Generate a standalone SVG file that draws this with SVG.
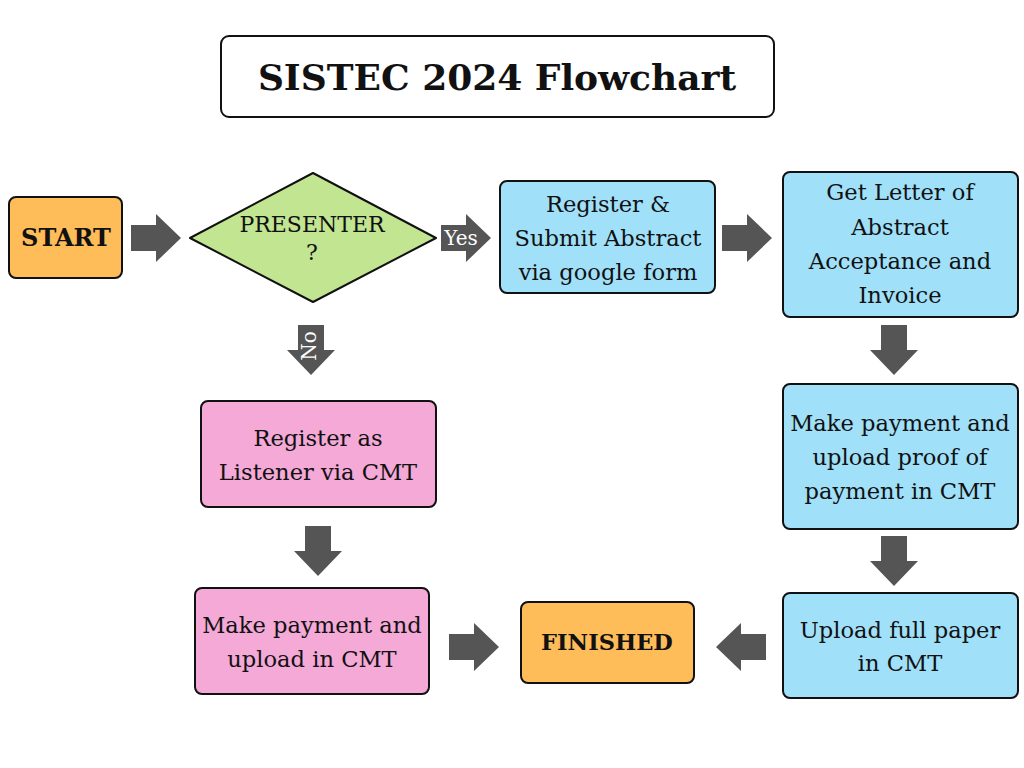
<svg xmlns="http://www.w3.org/2000/svg" xmlns:xlink="http://www.w3.org/1999/xlink" width="1024" height="768" viewBox="0 0 1024 768">
<style>
.box{stroke:#111;stroke-width:2}
.orange{fill:#ffbd59}
.blue{fill:#a0e0f9}
.pink{fill:#f4a9d7}
.green{fill:#c1e591}
.t{font-family:"DejaVu Serif","Liberation Serif",serif;font-size:22.6px;fill:#111;text-anchor:middle}
.d{font-size:22px}
.b{font-family:"DejaVu Serif","Liberation Serif",serif;font-weight:bold;fill:#111;text-anchor:middle}
.w{font-family:"DejaVu Serif","Liberation Serif",serif;font-size:20px;fill:#fff;text-anchor:middle}
.arr{fill:#555555}
</style>
<defs>
<path id="arr" d="M-25,-13 H0 V-24 L25,0 L0,24 V13 H-25 Z"/>
</defs>
<rect width="1024" height="768" fill="#fff"/>

<g id="title">
<rect class="box" x="221" y="36" width="553" height="81" rx="8" fill="#fff"/>
<text class="b" x="497" y="90" font-size="36">SISTEC 2024 Flowchart</text>
</g>

<g id="connectors">
<use href="#arr" class="arr" transform="translate(156,238)"/>
<use href="#arr" class="arr" transform="translate(466,238)"/>
<use href="#arr" class="arr" transform="translate(747,238)"/>
<use href="#arr" class="arr" transform="translate(894,350) rotate(90)"/>
<use href="#arr" class="arr" transform="translate(894,561) rotate(90)"/>
<use href="#arr" class="arr" transform="translate(741,647) rotate(180)"/>
<use href="#arr" class="arr" transform="translate(474,647)"/>
<use href="#arr" class="arr" transform="translate(318,551) rotate(90)"/>
<use href="#arr" class="arr" transform="translate(311,350) rotate(90)"/>
<text class="w" x="461" y="245">Yes</text>
<text class="w" transform="translate(316,346) rotate(-90)">No</text>
</g>

<g id="start">
<rect class="box orange" x="9" y="197" width="113" height="81" rx="7"/>
<text class="b" x="66" y="246" font-size="24">START</text>
</g>

<g id="presenter">
<path class="box green" stroke-linejoin="round" d="M190,238 L313,173 L436,238 L313,302 Z"/>
<text class="t d" x="312" y="232">PRESENTER</text>
<text class="t d" x="312" y="260">?</text>
</g>

<g id="register-submit">
<rect class="box blue" x="500" y="181" width="215" height="112" rx="7"/>
<text class="t" x="608" y="212">Register &amp;</text>
<text class="t" x="608" y="246">Submit Abstract</text>
<text class="t" x="608" y="280">via google form</text>
</g>

<g id="letter">
<rect class="box blue" x="783" y="172" width="235" height="145" rx="7"/>
<text class="t" x="900" y="200">Get Letter of</text>
<text class="t" x="900" y="235">Abstract</text>
<text class="t" x="900" y="269">Acceptance and</text>
<text class="t" x="900" y="303">Invoice</text>
</g>

<g id="payment-proof">
<rect class="box blue" x="783" y="384" width="235" height="145" rx="7"/>
<text class="t" x="900" y="431">Make payment and</text>
<text class="t" x="900" y="465">upload proof of</text>
<text class="t" x="900" y="499">payment in CMT</text>
</g>

<g id="upload-paper">
<rect class="box blue" x="783" y="593" width="235" height="105" rx="7"/>
<text class="t" x="900" y="638">Upload full paper</text>
<text class="t" x="900" y="671">in CMT</text>
</g>

<g id="finished">
<rect class="box orange" x="521" y="602" width="173" height="81" rx="7"/>
<text class="b" x="607" y="650" font-size="22.5">FINISHED</text>
</g>

<g id="listener">
<rect class="box pink" x="201" y="401" width="235" height="106" rx="7"/>
<text class="t" x="318" y="446">Register as</text>
<text class="t" x="318" y="480">Listener via CMT</text>
</g>

<g id="payment-listener">
<rect class="box pink" x="195" y="588" width="234" height="106" rx="7"/>
<text class="t" x="312" y="633">Make payment and</text>
<text class="t" x="312" y="667">upload in CMT</text>
</g>
</svg>
